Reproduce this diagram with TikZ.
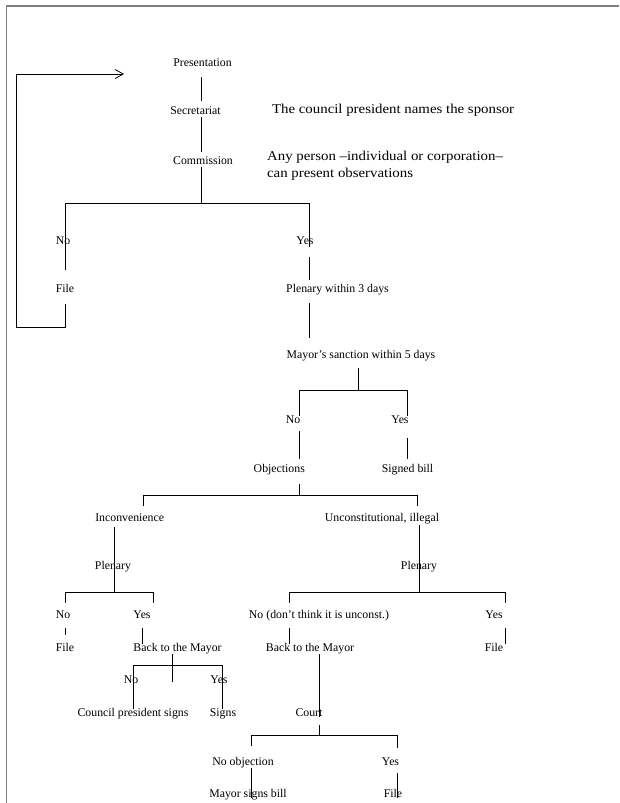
\documentclass[tikz,border=0pt]{standalone}
\usepackage{fontspec}
\setmainfont{Liberation Serif}
\newfontfamily\notefont[FakeStretch=1.1]{Liberation Serif}
\usetikzlibrary{arrows.meta}
\definecolor{framegray}{gray}{0.5}
\tikzset{
	steptext/.style={font=\fontsize{11.8}{14}\selectfont, inner sep=0pt, text height=7.5pt, text depth=2pt}
}
\tikzset{
	notetext/.style={font=\fontsize{13.5}{16.5}\selectfont\notefont, inner sep=0pt, align=left, anchor=west}
}

\begin{document}
\begin{tikzpicture}[x=1pt, y=-1pt, line width=0.8pt]
  \useasboundingbox (0,0) rectangle (619,803);
  % frame
  \draw[framegray, line width=1.6pt] (6.5,803) -- (6.5,6) -- (619,6);
  % first steps
  \node[steptext] (pres) at (202.5,64) {Presentation};
  \node[steptext] (sec) at (195.5,112) {Secretariat};
  \node[steptext] (comm) at (203,162) {Commission};
  \node[notetext] (sponsor) at (271.7,110) {The council president names the sponsor};
  \node[notetext] (observ) at (266.7,166) {Any person –individual or corporation–\\can present observations};
  % commission answer
  \node[steptext] (noA) at (63,242) {No};
  \node[steptext] (fileA) at (65,290) {File};
  \node[steptext] (yesA) at (305,242) {Yes};
  \node[steptext] (plen3) at (337.5,290) {Plenary within 3 days};
  \node[steptext] (sanct) at (361,356) {Mayor’s sanction within 5 days};
  \node[steptext] (noB) at (293,421) {No};
  \node[steptext] (yesB) at (400,421) {Yes};
  \node[steptext] (obj) at (279.3,470) {Objections};
  \node[steptext] (signed) at (407.5,470) {Signed bill};
  % objections
  \node[steptext] (incon) at (129.7,519) {Inconvenience};
  \node[steptext] (unconst) at (382,519) {Unconstitutional, illegal};
  \node[steptext] (plenL) at (113,567) {Plenary};
  \node[steptext] (plenR) at (419,567) {Plenary};
  \node[steptext] (noC) at (63,616) {No};
  \node[steptext] (yesC) at (142,616) {Yes};
  \node[steptext] (noD) at (319,616) {No (don’t think it is unconst.)};
  \node[steptext] (yesD) at (494,616) {Yes};
  \node[steptext] (fileC) at (65,649) {File};
  \node[steptext] (backL) at (177.5,649) {Back to the Mayor};
  \node[steptext] (backR) at (310,649) {Back to the Mayor};
  \node[steptext] (fileD) at (494,649) {File};
  \node[steptext] (noE) at (131,681) {No};
  \node[steptext] (yesE) at (219,681) {Yes};
  \node[steptext] (council) at (133,714) {Council president signs};
  \node[steptext] (signs) at (223,714) {Signs};
  \node[steptext] (court) at (309,714) {Court};
  \node[steptext] (noobj) at (243,763) {No objection};
  \node[steptext] (yesF) at (390.5,763) {Yes};
  \node[steptext] (mayorsg) at (248,795) {Mayor signs bill};
  \node[steptext] (fileF) at (393,795) {File};

  % trunk
  \coordinate (f1m) at (201,203);
  \draw[shorten <=8pt, shorten >=6pt] (pres.south -| f1m) -- (sec.north -| f1m);
  \draw[shorten >=5pt] (sec.south -| f1m) -- (comm.north -| f1m);
  \draw (comm.south -| f1m) -- (f1m);
  % fork 1
  \coordinate (f1l) at (65,203);
  \coordinate (f1r) at (309,203);
  \draw (f1l) -- (f1r);
  \draw[shorten >=15pt] (f1l) -- (f1l |- fileA.north);
  \draw[shorten >=-5pt] (f1r) -- (f1r |- yesA);
  \draw[shorten <=10pt, shorten >=5pt] (yesA.south -| f1r) -- (plen3.north -| f1r);
  \draw[shorten <=8pt, shorten >=13pt] (plen3.south -| f1r) -- (sanct.north -| f1r);
  % loop back
  \coordinate (lp1) at (65,327);
  \coordinate (lp2) at (16,327);
  \coordinate (lp3) at (16,74);
  \coordinate (lp4) at (124,74);
  \draw[shorten <=9pt, -{Straight Barb[length=8pt,width=9pt]}] (fileA.south -| lp1) -- (lp1) -- (lp2) -- (lp3) -- (lp4);
  % fork 2
  \coordinate (f2m) at (358,390);
  \coordinate (f2l) at (299,390);
  \coordinate (f2r) at (407,390);
  \draw[shorten <=7pt] (sanct.south -| f2m) -- (f2m);
  \draw (f2l) -- (f2r);
  \draw (f2l) -- (f2l |- noB.north);
  \draw (f2r) -- (f2r |- yesB.north);
  \draw[shorten <=5pt, shorten >=6pt] (noB.south -| f2l) -- (obj.north -| f2l);
  \draw[shorten <=12pt, shorten >=6pt] (yesB.south -| f2r) -- (signed.north -| f2r);
  % fork 3
  \coordinate (f3m) at (299,495);
  \coordinate (f3l) at (143,495);
  \coordinate (f3r) at (417,495);
  \draw[shorten <=9pt] (obj.south -| f3m) -- (f3m);
  \draw (f3l) -- (f3r);
  \draw[shorten >=7.5pt] (f3l) -- (f3l |- incon.north);
  \draw[shorten >=7.5pt] (f3r) -- (f3r |- unconst.north);
  % plenary, inconvenience
  \coordinate (f4m) at (114,592);
  \coordinate (f4l) at (65,592);
  \coordinate (f4r) at (153,592);
  \draw[shorten <=3pt] (incon.south -| f4m) -- (f4m);
  \draw (f4l) -- (f4r);
  \draw[shorten >=8pt] (f4l) -- (f4l |- noC.north);
  \draw[shorten >=8pt] (f4r) -- (f4r |- yesC.north);
  \draw[shorten <=7pt, shorten >=9pt] (noC.south -| f4l) -- (fileC.north -| f4l);
  \draw[shorten <=7pt] (yesC.south) -- (yesC.south |- backL.north);
  % plenary, unconstitutional
  \coordinate (f5m) at (419,592);
  \coordinate (f5l) at (289,592);
  \coordinate (f5r) at (505,592);
  \draw[shorten <=1pt] (unconst.south -| f5m) -- (f5m);
  \draw (f5l) -- (f5r);
  \draw[shorten >=8pt] (f5l) -- (f5l |- noD.north);
  \draw[shorten >=8pt] (f5r) -- (f5r |- yesD.north);
  \draw[shorten <=7pt] (noD.south -| f5l) -- (backR.north -| f5l);
  \draw[shorten <=7pt] (yesD.south -| f5r) -- (fileD.north -| f5r);
  % back to the mayor, left
  \coordinate (f6m) at (172,665);
  \coordinate (f6l) at (133,665);
  \coordinate (f6r) at (222,665);
  \draw[shorten >=-17pt] (backL.south -| f6m) -- (f6m);
  \draw (f6l) -- (f6r);
  \draw (f6l) -- (f6l |- council.north);
  \draw (f6r) -- (f6r |- signs.north);
  % back to the mayor, right
  \coordinate (f7m) at (319,735);
  \coordinate (f7l) at (251,735);
  \coordinate (f7r) at (397,735);
  \draw (backR.south -| f7m) -- (court.base -| f7m);
  \draw[shorten <=6pt] (court.south -| f7m) -- (f7m);
  \draw (f7l) -- (f7r);
  \draw[shorten >=11.5pt] (f7l) -- (f7l |- noobj.north);
  \draw[shorten >=10pt] (f7r) -- (f7r |- yesF.north);
  \draw (noobj.south -| f7l) -- (mayorsg.base -| f7l);
  \draw[shorten <=5pt] (yesF.south -| f7r) -- (fileF.base -| f7r);
\end{tikzpicture}
\end{document}
